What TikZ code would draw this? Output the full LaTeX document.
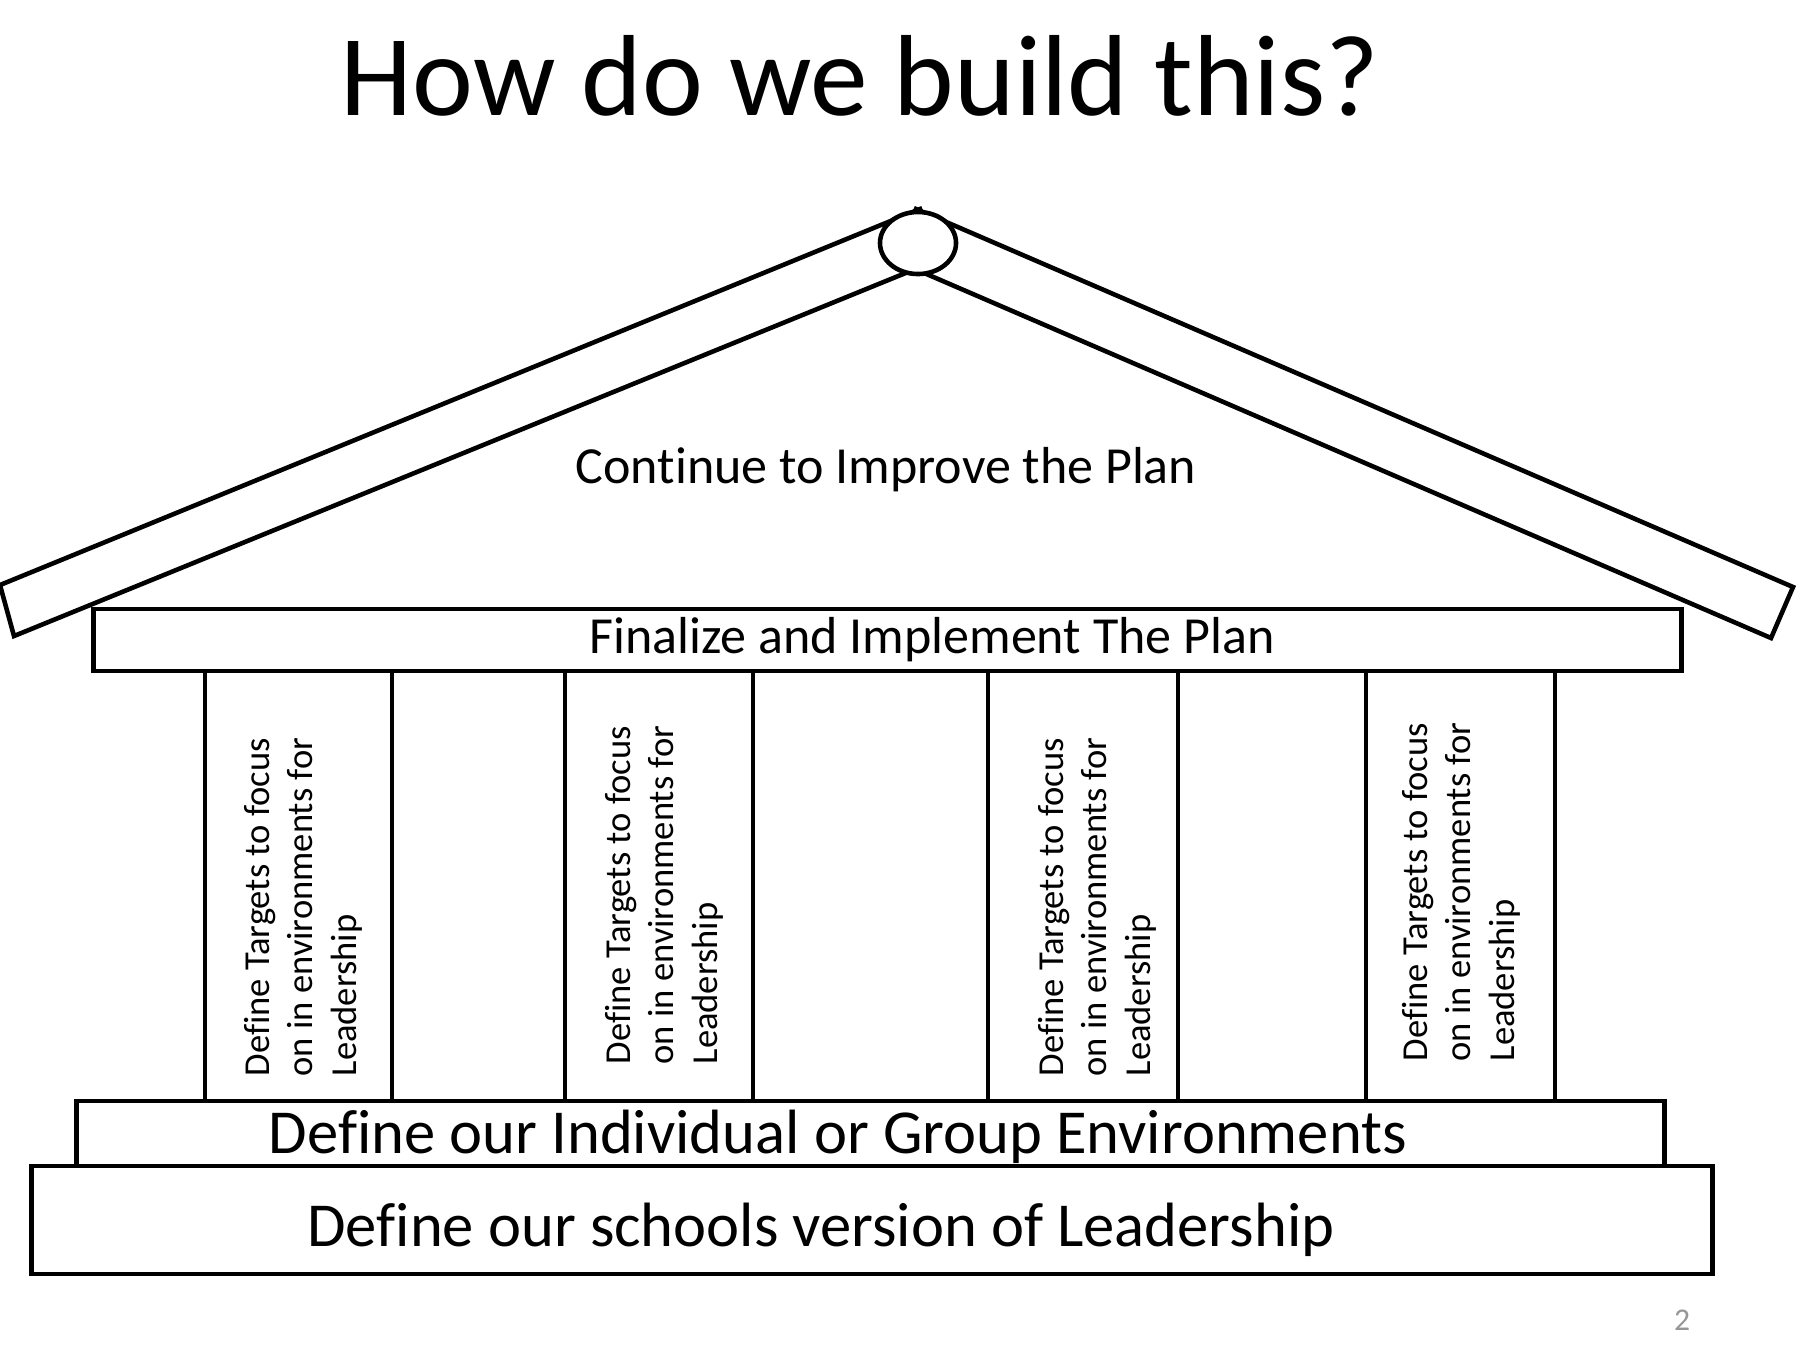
\documentclass[tikz,border=0pt]{standalone}
\usepackage{fontspec}
\setmainfont{Carlito}[Ligatures=NoCommon]
\usepackage{xcolor}
\usepackage{tikz}
\usetikzlibrary{shapes.geometric}
\usetikzlibrary{positioning}

\definecolor{pagegray}{RGB}{150,150,150}

\tikzset{
  block/.style={draw=black, line width=1.3pt, fill=white, inner sep=0pt, outer sep=0pt},
  plank/.style={draw=black, line width=1.3pt, fill=white},
  pillartext/.style={rotate=90, anchor=west, align=left, inner sep=0pt,
    font=\fontsize{10.4}{12.4}\selectfont},
  bigtext/.style={anchor=base, inner sep=0pt, font=\fontsize{17.8}{21}\selectfont},
  rooftext/.style={anchor=base, inner sep=0pt, font=\fontsize{14.8}{17.6}\selectfont}
}

\begin{document}
\begin{tikzpicture}[x=0.01cm, y=-0.01cm]
    \useasboundingbox (0,0) rectangle (1804,1356);
    \node[anchor=base, inner sep=0pt, font=\fontsize{32.8}{39}\selectfont] (title) at (860,115) {How do we build this?};

    % roof planks and the peak
    \draw[plank] (0,585) -- (920,209) -- (940,259) -- (14,636) -- cycle;
    \draw[plank] (1793,587) -- (916,209) -- (894,260) -- (1771,638) -- cycle;
    \node[draw=black, line width=1.3pt, fill=white, ellipse, inner sep=0pt,
      minimum width=0.76cm, minimum height=0.62cm] (peak) at (918,243) {};
    \node[rooftext] (improve) at (886,483) {Continue to Improve the Plan};

    % beam
    \node[block, minimum width=15.87cm, minimum height=0.62cm] (beam) at (887.5,640) {};
    \node[rooftext] (beamtext) at (932,653) {Finalize and Implement The Plan};

    % pillars
    \node[block, minimum width=1.87cm, minimum height=4.30cm] (P1) at (298.5,886) {};
    \node[block, minimum width=1.88cm, minimum height=4.30cm] (P2) at (659,886) {};
    \node[block, minimum width=1.90cm, minimum height=4.30cm] (P3) at (1083,886) {};
    \node[block, minimum width=1.89cm, minimum height=4.30cm] (P4) at (1460.5,886) {};
    \node[pillartext] (T1) at (303,1077) {Define Targets to focus\\on in environments for\\Leadership};
    \node[pillartext] (T2) at (664,1065) {Define Targets to focus\\on in environments for\\Leadership};
    \node[pillartext] (T3) at (1097,1077) {Define Targets to focus\\on in environments for\\Leadership};
    \node[pillartext] (T4) at (1461,1062) {Define Targets to focus\\on in environments for\\Leadership};

    % steps
    \node[block, minimum width=15.87cm, minimum height=0.65cm] (envs) at (870.5,1133.5) {};
    \node[bigtext] (envstext) at (838,1153) {Define our Individual or Group Environments};
    \node[block, minimum width=16.80cm, minimum height=1.08cm] (base) at (872,1220) {};
    \node[bigtext] (basetext) at (821,1246) {Define our schools version of Leadership};

    \node[text=pagegray, inner sep=0pt, font=\fontsize{9}{11}\selectfont] (pagenum) at (1682,1320) {2};
  \end{tikzpicture}
\end{document}
